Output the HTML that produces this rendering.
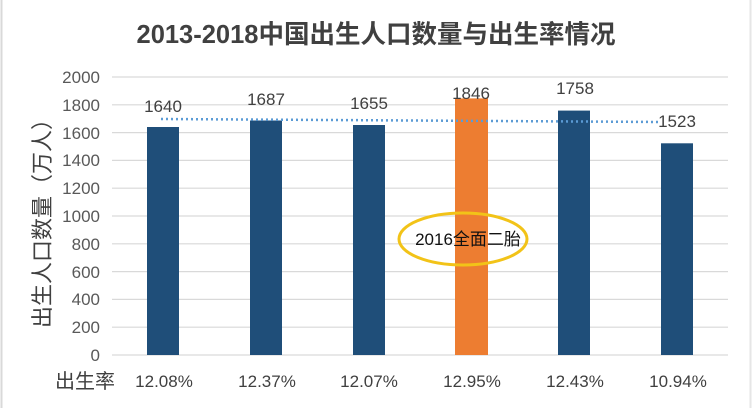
<!DOCTYPE html>
<html><head><meta charset="utf-8"><style>
body{margin:0;background:#fff}
svg{display:block}
text{font-family:"Liberation Sans","Noto Sans CJK SC",sans-serif}
</style></head><body>
<svg width="752" height="408" viewBox="0 0 752 408" xmlns="http://www.w3.org/2000/svg">
<rect width="752" height="408" fill="#fff"/>
<line x1="1.5" y1="0" x2="1.5" y2="408" stroke="#d9d9d9" stroke-width="2"/>
<line x1="750.5" y1="0" x2="750.5" y2="408" stroke="#e6e6e6" stroke-width="2"/>
<text x="376" y="43" text-anchor="middle" font-size="25.5" font-weight="bold" fill="#404040">2013-2018中国出生人口数量与出生率情况</text>
<g stroke="#d9d9d9" stroke-width="1.2">
<line x1="112" x2="728" y1="355" y2="355"/><line x1="112" x2="728" y1="327.2" y2="327.2"/>
<line x1="112" x2="728" y1="299.4" y2="299.4"/><line x1="112" x2="728" y1="271.6" y2="271.6"/>
<line x1="112" x2="728" y1="243.8" y2="243.8"/><line x1="112" x2="728" y1="216" y2="216"/>
<line x1="112" x2="728" y1="188.2" y2="188.2"/><line x1="112" x2="728" y1="160.4" y2="160.4"/>
<line x1="112" x2="728" y1="132.6" y2="132.6"/><line x1="112" x2="728" y1="104.8" y2="104.8"/>
<line x1="112" x2="728" y1="77" y2="77"/>
</g>
<g font-size="17" fill="#595959" text-anchor="end">
<text x="100" y="361">0</text><text x="100" y="333">200</text><text x="100" y="305">400</text>
<text x="100" y="278">600</text><text x="100" y="250">800</text><text x="100" y="222">1000</text>
<text x="100" y="194">1200</text><text x="100" y="166">1400</text><text x="100" y="139">1600</text>
<text x="100" y="111">1800</text><text x="100" y="83">2000</text>
</g>
<text transform="translate(50,218) rotate(-90)" text-anchor="middle" font-size="22" fill="#404040">出生人口数量（万人）</text>
<g fill="#1f4e79">
<rect x="147" y="127" width="32" height="228"/>
<rect x="250" y="120.5" width="32" height="234.5"/>
<rect x="353" y="125" width="32" height="230"/>
<rect x="558" y="110.6" width="32" height="244.4"/>
<rect x="661" y="143.3" width="32" height="211.7"/>
</g>
<rect x="455" y="98.4" width="33" height="256.6" fill="#ed7d31"/>
<line x1="161" y1="119" x2="661" y2="122" stroke="#5b9bd5" stroke-width="2.5" stroke-dasharray="2 3"/>
<g font-size="17" fill="#404040" text-anchor="middle">
<text x="163" y="112">1640</text><text x="266" y="105">1687</text><text x="369" y="109">1655</text>
<text x="471" y="99">1846</text><text x="575" y="94">1758</text><text x="677" y="127">1523</text>
</g>
<ellipse cx="463" cy="239" rx="64" ry="26" fill="none" stroke="#f2c318" stroke-width="3"/>
<text x="468" y="245" text-anchor="middle" font-size="17" fill="#111">2016全面二胎</text>
<text x="85" y="388" text-anchor="middle" font-size="20" fill="#404040">出生率</text>
<g font-size="17" fill="#404040" text-anchor="middle">
<text x="164" y="387">12.08%</text><text x="267" y="387">12.37%</text><text x="369" y="387">12.07%</text>
<text x="472" y="387">12.95%</text><text x="575" y="387">12.43%</text><text x="678" y="387">10.94%</text>
</g>
</svg>
</body></html>
